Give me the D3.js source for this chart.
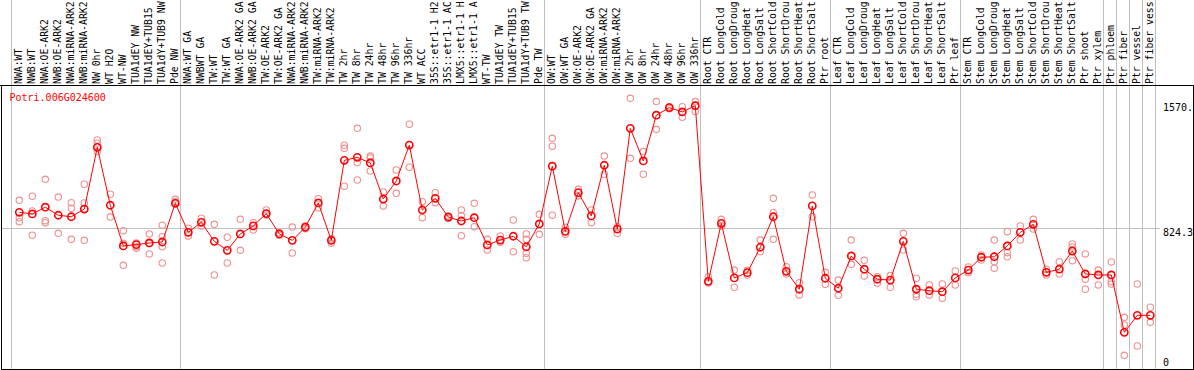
<!DOCTYPE html>
<html><head><meta charset="utf-8">
<script src="https://cdn.jsdelivr.net/npm/d3@7"></script>
<style>
html,body{margin:0;padding:0;background:#fff;}
svg{display:block;}
text{font-family:"DejaVu Sans Mono",monospace;font-size:10px;}
</style></head>
<body>
<svg id="chart" width="1194" height="370"></svg>
<script>
const title = "Potri.006G024600";
const categories = [
"NWA:WT","NWB:WT","NWA:OE-ARK2","NWB:OE-ARK2","NWA:miRNA-ARK2","NWB:miRNA-ARK2","NW 0hr","WT H2O","WT-NW","TUA1dEY NW","TUA1dEY+TUB15 NW","TUA1dY+TUB9 NW","Pde NW",
"NWA:WT GA","NWBWT GA","TW:WT","TW:WT GA","NWA:OE-ARK2 GA","NWB:OE-ARK2 GA","TW:OE-ARK2","TW:OE-ARK2 GA","NWA:miRNA-ARK2 GA","NWB:miRNA-ARK2 GA","TW:miRNA-ARK2","TW:miRNA-ARK2 GA",
"TW 2hr","TW 8hr","TW 24hr","TW 48hr","TW 96hr","TW 336hr","WT ACC","35S::etr1-1 H2O","35S::etr1-1 ACC","LMX5::etr1-1 H2O","LMX5::etr1-1 ACC","WT-TW","TUA1dEY TW","TUA1dEY+TUB15 TW","TUA1dY+TUB9 TW","Pde TW",
"OW:WT","OW:WT GA","OW:OE-ARK2","OW:OE-ARK2 GA","OW:miRNA-ARK2","OW:miRNA-ARK2 GA","OW 2hr","OW 8hr","OW 24hr","OW 48hr","OW 96hr","OW 336hr",
"Root CTR","Root LongCold","Root LongDrought","Root LongHeat","Root LongSalt","Root ShortCold","Root ShortDrought","Root ShortHeat","Root ShortSalt","Ptr root",
"Leaf CTR","Leaf LongCold","Leaf LongDrought","Leaf LongHeat","Leaf LongSalt","Leaf ShortCold","Leaf ShortDrought","Leaf ShortHeat","Leaf ShortSalt","Ptr leaf",
"Stem CTR","Stem LongCold","Stem LongDrought","Stem LongHeat","Stem LongSalt","Stem ShortCold","Stem ShortDrought","Stem ShortHeat","Stem ShortSalt","Ptr shoot",
"Ptr xylem","Ptr phloem","Ptr fiber","Ptr vessel","Ptr fiber vessel"
];
const means = [
920,910,951,902,893,940,1316,963,715,723,733,739,975,
798,859,743,688,788,837,912,788,749,829,977,749,
1237,1255,1221,1001,1111,1330,934,1005,891,867,887,721,751,774,710,849,
1201,804,1040,898,1207,818,1432,1233,1512,1558,1532,1570,
499,853,520,552,707,893,560,451,959,518,
457,654,573,512,507,743,451,442,436,520,
568,646,649,715,798,847,554,573,684,544,
538,538,188,292,292
];
const replicates = [
[993,887,863],[1018,928,780],[1121,869,857],[1013,792],[979,945,755],[1091,977,749],[1361,1341,1290],[1030,891],[808,731,597],[733,710,701],[788,666,731],[841,771,710,611],[999,985],
[823,776],[884,837],[847,538],[768,611],[877,688],[857,812],[934,904],[796,780],[830,672],[837,820],[1003,948],[759,731],
[1329,1310,1079],[1432,1223,1117],[1263,1251,1172],[1044,959],[1178,1036],[1457,1195],[985,887],[1040,979],[898,884],[934,899,777],[975,832],[755,690],[776,737],[873,680],[788,755,670,643],[908,786],
[1371,1323,902],[829,786],[1060,1020],[934,857],[1263,1152],[832,792],[1615,1249],[1290,1152],[1595,1426],[1564,1552],[1564,1499],[1595,1534],
[527,489],[877,837],[568,463],[538,566],[751,680],[1005,918,755],[588,544],[491,416],[1026,893],[554,481],
[507,414],[751,603],[627,532],[527,487],[534,463],[792,690],[518,405,420],[477,416],[483,396],[562,477],
[552,587],[660,629],[751,619,579],[802,674,649],[837,751],[877,818],[573,538],[619,544],[727,709,625],[666,512,451],
[568,477],[617,497,483],[280,233,48],[483,105],[341,249]
];
const groupStarts = ["NWA:WT","NWA:WT GA","OW:WT","Root CTR","Leaf CTR","Stem CTR","Ptr phloem","Ptr fiber","Ptr vessel","Ptr fiber vessel"];
const yTicks = [1570, 824.3, 0];
const yTickLabels = ["1570.","824.3","0"];

const svg = d3.select("#chart");
const W = 1194, H = 370;
const plotTop = 85.5, plotBottom = 369.5, left = 1.5, right = 1193.5;
const maxChars = 14; // header row shows at most 14 characters per label

const x = d3.scaleBand().domain(categories).range([11.2, 1155.2]).padding(0);
const px = c => x(c) + 8.1;
const y = d3.scaleLinear().domain([0, 1570]).range([363.2, 105.7]);

// grid
svg.append("line").attr("x1", left).attr("x2", 1160).attr("y1", Math.round(y(824.3))+0.5).attr("y2", Math.round(y(824.3))+0.5)
  .attr("stroke", "#c0c0c0").attr("stroke-width", 1);
const bounds = groupStarts.map(c => x(c)).concat([x.range()[1]]);
svg.selectAll("line.vg").data(bounds).join("line").attr("class","vg")
  .attr("x1", d => Math.round(d)+0.5).attr("x2", d => Math.round(d)+0.5)
  .attr("y1", 0).attr("y2", plotBottom).attr("stroke", "#c0c0c0").attr("stroke-width", 1);

// frame
svg.append("line").attr("x1",0).attr("x2",W).attr("y1",plotTop).attr("y2",plotTop).attr("stroke","#000");
svg.append("rect").attr("x",left).attr("y",plotTop).attr("width",right-left).attr("height",plotBottom-plotTop)
  .attr("fill","none").attr("stroke","#000");

// category labels (rotated)
svg.append("g").selectAll("text").data(categories).join("text")
  .attr("transform", d => `translate(${px(d)+2.2},84) rotate(-90)`)
  .attr("text-anchor","start").attr("fill","#000")
  .style("font-size","9.8px")
  .text(d => d.length > maxChars ? d.slice(0, maxChars) : d);

// title
svg.append("text").attr("x", 9.5).attr("y", 100.5).attr("fill", "#ff0000").text(title);

// right tick labels
const tickDy = [4.8, 8, 3];
svg.selectAll("text.yt").data(yTicks).join("text").attr("class","yt")
  .attr("x", 1163).attr("y", (d,i) => y(d) + tickDy[i]).attr("fill","#000")
  .text((d,i) => yTickLabels[i]);

// replicates
const repData = [];
categories.forEach((c,i) => replicates[i].forEach(v => repData.push({c, v})));
svg.append("g").selectAll("circle").data(repData).join("circle")
  .attr("cx", d => px(d.c)).attr("cy", d => y(d.v)).attr("r", 3.2)
  .attr("fill","none").attr("stroke","#ee9090").attr("stroke-width",1.1);

// mean line
const line = d3.line().x((d,i) => px(categories[i])).y(d => y(d));
svg.append("path").datum(means).attr("d", line).attr("fill","none").attr("stroke","#ff0000").attr("stroke-width",1);

// mean markers
svg.append("g").selectAll("circle").data(means).join("circle")
  .attr("cx", (d,i) => px(categories[i])).attr("cy", d => y(d)).attr("r", 3.6)
  .attr("fill","none").attr("stroke","#ff0000").attr("stroke-width",1.6);
</script>
</body></html>
